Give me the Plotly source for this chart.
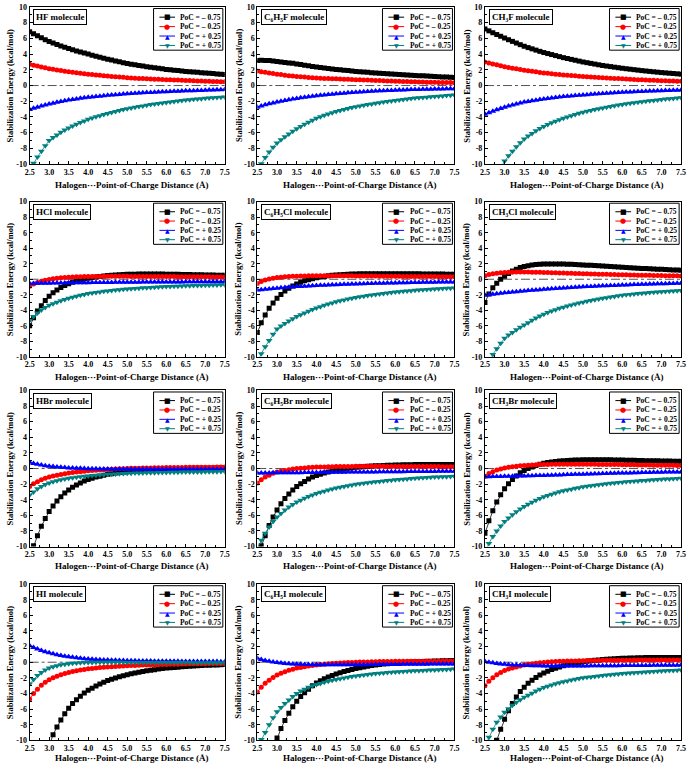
import plotly.graph_objects as go

# ---------------- data ----------------
X = [2.5, 2.6, 2.7, 2.8, 2.9, 3.0, 3.1, 3.2, 3.3, 3.4, 3.5, 3.6, 3.7, 3.8, 3.9,
     4.0, 4.1, 4.2, 4.3, 4.4, 4.5, 4.6, 4.7, 4.8, 4.9, 5.0, 5.1, 5.2, 5.3, 5.4,
     5.5, 5.6, 5.7, 5.8, 5.9, 6.0, 6.1, 6.2, 6.3, 6.4, 6.5, 6.6, 6.7, 6.8, 6.9,
     7.0, 7.1, 7.2, 7.3, 7.4, 7.5]

X_TICKVALS = [2.5, 3.0, 3.5, 4.0, 4.5, 5.0, 5.5, 6.0, 6.5, 7.0, 7.5]
X_TICKTEXT = ["2.5", "3.0", "3.5", "4.0", "4.5", "5.0", "5.5", "6.0", "6.5", "7.0", "7.5"]
Y_TICKVALS = [-10, -8, -6, -4, -2, 0, 2, 4, 6, 8, 10]
Y_TICKTEXT = ["-10", "-8", "-6", "-4", "-2", "0", "2", "4", "6", "8", "10"]

X_TITLE = "Halogen\u00b7\u00b7\u00b7Point-of-Charge Distance (\u00c5)"
Y_TITLE = "Stabilization Energy (kcal/mol)"
SERIES_NAMES = ["PoC = \u2013 0.75", "PoC = \u2013 0.25", "PoC = + 0.25", "PoC = + 0.75"]
MOLECULES = ["HF molecule", "C\u2086H\u2085F molecule", "CH\u2083F molecule",
             "HCl molecule", "C\u2086H\u2085Cl molecule", "CH\u2083Cl molecule",
             "HBr molecule", "C\u2086H\u2085Br molecule", "CH\u2083Br molecule",
             "HI molecule", "C\u2086H\u2085I molecule", "CH\u2083I molecule"]

HF_M075 = [6.85, 6.58, 6.32, 6.07, 5.83, 5.60, 5.41, 5.22, 5.04, 4.87, 4.70, 4.55, 4.40, 4.26, 4.13,
           4.00, 3.86, 3.73, 3.60, 3.47, 3.35, 3.24, 3.13, 3.02, 2.91, 2.80, 2.72, 2.64, 2.56, 2.48,
           2.40, 2.33, 2.26, 2.19, 2.12, 2.05, 2.00, 1.95, 1.90, 1.85, 1.80, 1.76, 1.72, 1.68, 1.64,
           1.60, 1.56, 1.52, 1.48, 1.44, 1.40]
HF_M025 = [2.70, 2.58, 2.47, 2.36, 2.25, 2.15, 2.06, 1.98, 1.90, 1.82, 1.75, 1.69, 1.63, 1.57, 1.51,
           1.45, 1.40, 1.35, 1.30, 1.25, 1.20, 1.16, 1.12, 1.08, 1.04, 1.00, 0.97, 0.94, 0.91, 0.88,
           0.85, 0.83, 0.81, 0.79, 0.77, 0.75, 0.73, 0.71, 0.69, 0.67, 0.65, 0.63, 0.61, 0.59, 0.57,
           0.55, 0.54, 0.52, 0.51, 0.49, 0.48]
HF_P025 = [-3.05, -2.90, -2.75, -2.61, -2.48, -2.35, -2.24, -2.13, -2.03, -1.94, -1.85, -1.78, -1.70, -1.63, -1.56,
           -1.50, -1.45, -1.40, -1.35, -1.30, -1.25, -1.21, -1.17, -1.13, -1.09, -1.05, -1.02, -0.99, -0.96, -0.93,
           -0.90, -0.88, -0.85, -0.83, -0.80, -0.78, -0.76, -0.74, -0.72, -0.70, -0.68, -0.66, -0.65, -0.63, -0.62,
           -0.60, -0.58, -0.57, -0.55, -0.54, -0.52]
HF_P075 = [-10.80, -9.90, -9.10, -8.35, -7.65, -7.00, -6.62, -6.28, -5.96, -5.67, -5.40, -5.16, -4.93, -4.71, -4.50,
           -4.30, -4.14, -3.98, -3.83, -3.69, -3.55, -3.42, -3.29, -3.17, -3.06, -2.95, -2.86, -2.77, -2.68, -2.59,
           -2.50, -2.43, -2.36, -2.29, -2.22, -2.15, -2.09, -2.03, -1.97, -1.91, -1.85, -1.80, -1.76, -1.71, -1.67,
           -1.62, -1.59, -1.55, -1.52, -1.48, -1.45]

C6H5F_M075 = [3.20, 3.21, 3.20, 3.17, 3.12, 3.05, 3.00, 2.94, 2.88, 2.82, 2.75, 2.67, 2.59, 2.51, 2.43,
              2.35, 2.29, 2.23, 2.17, 2.11, 2.05, 2.00, 1.95, 1.90, 1.85, 1.80, 1.76, 1.72, 1.68, 1.64,
              1.60, 1.57, 1.53, 1.50, 1.46, 1.43, 1.40, 1.37, 1.34, 1.31, 1.28, 1.25, 1.23, 1.20, 1.18,
              1.15, 1.12, 1.10, 1.07, 1.05, 1.02]
C6H5F_M025 = [1.85, 1.76, 1.68, 1.60, 1.52, 1.45, 1.39, 1.32, 1.26, 1.20, 1.15, 1.11, 1.07, 1.03, 0.99,
              0.95, 0.93, 0.91, 0.89, 0.87, 0.85, 0.83, 0.81, 0.79, 0.77, 0.75, 0.73, 0.71, 0.69, 0.67,
              0.65, 0.63, 0.61, 0.59, 0.57, 0.55, 0.53, 0.52, 0.50, 0.49, 0.47, 0.46, 0.45, 0.43, 0.42,
              0.41, 0.40, 0.39, 0.38, 0.37, 0.36]
C6H5F_P025 = [-2.75, -2.60, -2.46, -2.33, -2.21, -2.10, -2.00, -1.90, -1.81, -1.73, -1.65, -1.57, -1.50, -1.43, -1.36,
              -1.30, -1.25, -1.20, -1.15, -1.10, -1.05, -1.01, -0.97, -0.93, -0.89, -0.85, -0.82, -0.79, -0.76, -0.73,
              -0.70, -0.68, -0.66, -0.64, -0.62, -0.60, -0.58, -0.56, -0.54, -0.52, -0.50, -0.49, -0.48, -0.47, -0.46,
              -0.45, -0.44, -0.43, -0.42, -0.41, -0.40]
C6H5F_P075 = [-10.70, -9.95, -9.15, -8.45, -7.85, -7.30, -6.90, -6.52, -6.17, -5.83, -5.50, -5.21, -4.94, -4.68, -4.41,
              -4.15, -3.97, -3.79, -3.62, -3.46, -3.30, -3.18, -3.05, -2.93, -2.81, -2.70, -2.61, -2.52, -2.43, -2.34,
              -2.25, -2.18, -2.11, -2.04, -1.97, -1.90, -1.84, -1.78, -1.72, -1.66, -1.60, -1.56, -1.52, -1.48, -1.44,
              -1.40, -1.36, -1.32, -1.28, -1.24, -1.20]

CH3F_M075 = [7.20, 6.96, 6.72, 6.49, 6.27, 6.05, 5.83, 5.62, 5.41, 5.20, 5.00, 4.83, 4.67, 4.51, 4.35,
             4.20, 4.07, 3.94, 3.81, 3.68, 3.55, 3.44, 3.33, 3.22, 3.11, 3.00, 2.91, 2.82, 2.73, 2.64,
             2.55, 2.48, 2.41, 2.34, 2.27, 2.20, 2.14, 2.08, 2.02, 1.96, 1.90, 1.85, 1.80, 1.75, 1.70,
             1.65, 1.61, 1.57, 1.53, 1.49, 1.45]
CH3F_M025 = [3.00, 2.87, 2.75, 2.63, 2.51, 2.40, 2.30, 2.21, 2.12, 2.03, 1.95, 1.88, 1.81, 1.74, 1.67,
             1.60, 1.55, 1.50, 1.45, 1.40, 1.35, 1.31, 1.27, 1.23, 1.19, 1.15, 1.12, 1.09, 1.06, 1.03,
             1.00, 0.97, 0.94, 0.91, 0.88, 0.85, 0.82, 0.80, 0.77, 0.75, 0.72, 0.70, 0.68, 0.66, 0.64,
             0.62, 0.61, 0.59, 0.58, 0.56, 0.55]
CH3F_P025 = [-3.65, -3.45, -3.26, -3.08, -2.91, -2.75, -2.61, -2.47, -2.34, -2.22, -2.10, -2.02, -1.94, -1.86, -1.78,
             -1.70, -1.64, -1.58, -1.52, -1.46, -1.40, -1.36, -1.32, -1.28, -1.24, -1.20, -1.16, -1.12, -1.08, -1.04,
             -1.00, -0.97, -0.94, -0.91, -0.88, -0.85, -0.83, -0.81, -0.79, -0.77, -0.75, -0.73, -0.71, -0.69, -0.67,
             -0.65, -0.64, -0.62, -0.61, -0.59, -0.58]
CH3F_P075 = [-14.00, -13.00, -12.00, -11.20, -10.40, -9.60, -8.95, -8.35, -7.80, -7.28, -6.80, -6.43, -6.09, -5.77, -5.48,
             -5.20, -4.97, -4.75, -4.54, -4.34, -4.15, -3.99, -3.83, -3.68, -3.54, -3.40, -3.28, -3.17, -3.06, -2.95,
             -2.85, -2.75, -2.66, -2.57, -2.48, -2.40, -2.33, -2.26, -2.19, -2.12, -2.05, -2.00, -1.94, -1.89, -1.83,
             -1.78, -1.73, -1.69, -1.64, -1.60, -1.55]

HCl_M075 = [-6.00, -4.95, -4.10, -3.40, -2.75, -2.20, -1.75, -1.38, -1.07, -0.80, -0.57, -0.38, -0.22, -0.08, 0.04,
            0.14, 0.22, 0.30, 0.37, 0.43, 0.48, 0.52, 0.56, 0.59, 0.62, 0.64, 0.65, 0.66, 0.67, 0.68,
            0.68, 0.68, 0.68, 0.67, 0.67, 0.66, 0.65, 0.64, 0.63, 0.62, 0.61, 0.60, 0.59, 0.58, 0.57,
            0.56, 0.55, 0.54, 0.53, 0.52, 0.51]
HCl_M025 = [-0.90, -0.62, -0.41, -0.25, -0.12, -0.02, 0.06, 0.13, 0.18, 0.22, 0.26, 0.29, 0.31, 0.33, 0.34,
            0.35, 0.36, 0.37, 0.37, 0.38, 0.38, 0.38, 0.38, 0.38, 0.38, 0.38, 0.37, 0.37, 0.37, 0.36,
            0.36, 0.36, 0.35, 0.35, 0.35, 0.34, 0.34, 0.34, 0.33, 0.33, 0.33, 0.32, 0.32, 0.32, 0.31,
            0.31, 0.31, 0.30, 0.30, 0.30, 0.29]
HCl_P025 = [-0.55, -0.54, -0.53, -0.52, -0.51, -0.50, -0.49, -0.48, -0.48, -0.47, -0.46, -0.46, -0.45, -0.45, -0.44,
            -0.44, -0.43, -0.43, -0.42, -0.42, -0.41, -0.41, -0.40, -0.40, -0.39, -0.39, -0.38, -0.38, -0.38, -0.37,
            -0.37, -0.36, -0.36, -0.36, -0.35, -0.35, -0.35, -0.34, -0.34, -0.34, -0.33, -0.33, -0.33, -0.33, -0.32,
            -0.32, -0.32, -0.31, -0.31, -0.31, -0.30]
HCl_P075 = [-5.30, -4.80, -4.35, -3.97, -3.64, -3.35, -3.15, -2.96, -2.78, -2.61, -2.45, -2.32, -2.19, -2.07, -1.96,
            -1.85, -1.77, -1.70, -1.63, -1.56, -1.50, -1.45, -1.40, -1.35, -1.30, -1.25, -1.22, -1.18, -1.15, -1.11,
            -1.08, -1.05, -1.03, -1.00, -0.98, -0.95, -0.93, -0.91, -0.89, -0.87, -0.85, -0.83, -0.82, -0.80, -0.79,
            -0.77, -0.76, -0.74, -0.73, -0.71, -0.70]

C6H5Cl_M075 = [-6.85, -5.60, -4.60, -3.75, -3.05, -2.45, -1.95, -1.52, -1.16, -0.86, -0.60, -0.38, -0.20, -0.05, 0.08,
               0.20, 0.29, 0.37, 0.44, 0.50, 0.55, 0.59, 0.62, 0.65, 0.67, 0.69, 0.70, 0.71, 0.72, 0.72,
               0.72, 0.72, 0.72, 0.72, 0.72, 0.72, 0.71, 0.71, 0.71, 0.70, 0.70, 0.70, 0.69, 0.69, 0.68,
               0.68, 0.67, 0.67, 0.66, 0.66, 0.65]
C6H5Cl_M025 = [-0.55, -0.30, -0.11, 0.04, 0.14, 0.22, 0.27, 0.31, 0.35, 0.38, 0.40, 0.42, 0.43, 0.44, 0.45,
               0.45, 0.45, 0.45, 0.45, 0.45, 0.45, 0.45, 0.44, 0.44, 0.44, 0.43, 0.43, 0.42, 0.42, 0.41,
               0.41, 0.40, 0.40, 0.39, 0.39, 0.38, 0.38, 0.37, 0.37, 0.36, 0.36, 0.35, 0.35, 0.35, 0.34,
               0.34, 0.33, 0.33, 0.32, 0.32, 0.31]
C6H5Cl_P025 = [-1.40, -1.35, -1.30, -1.25, -1.20, -1.15, -1.11, -1.07, -1.03, -0.99, -0.95, -0.92, -0.89, -0.86, -0.83,
               -0.80, -0.78, -0.76, -0.74, -0.72, -0.70, -0.68, -0.66, -0.64, -0.62, -0.60, -0.58, -0.57, -0.55, -0.54,
               -0.52, -0.51, -0.50, -0.49, -0.48, -0.47, -0.46, -0.45, -0.44, -0.43, -0.42, -0.41, -0.40, -0.40, -0.39,
               -0.38, -0.37, -0.37, -0.36, -0.36, -0.35]
C6H5Cl_P075 = [-10.80, -9.60, -8.70, -7.90, -7.10, -6.40, -6.04, -5.71, -5.38, -5.08, -4.80, -4.56, -4.34, -4.12, -3.91,
               -3.70, -3.53, -3.36, -3.20, -3.05, -2.90, -2.78, -2.67, -2.56, -2.45, -2.35, -2.26, -2.18, -2.10, -2.02,
               -1.95, -1.89, -1.83, -1.77, -1.71, -1.65, -1.60, -1.56, -1.51, -1.47, -1.42, -1.39, -1.35, -1.32, -1.28,
               -1.25, -1.22, -1.20, -1.17, -1.15, -1.12]

CH3Cl_M075 = [-3.00, -1.90, -1.10, -0.50, 0.00, 0.40, 0.75, 1.05, 1.30, 1.50, 1.65, 1.75, 1.83, 1.90, 1.93,
              1.95, 1.96, 1.97, 1.97, 1.96, 1.95, 1.94, 1.92, 1.90, 1.88, 1.85, 1.82, 1.79, 1.76, 1.73,
              1.70, 1.67, 1.64, 1.61, 1.58, 1.55, 1.52, 1.49, 1.46, 1.43, 1.40, 1.38, 1.35, 1.33, 1.30,
              1.28, 1.25, 1.23, 1.20, 1.18, 1.15]
CH3Cl_M025 = [0.45, 0.60, 0.70, 0.78, 0.83, 0.87, 0.89, 0.91, 0.92, 0.92, 0.92, 0.92, 0.91, 0.90, 0.89,
              0.88, 0.86, 0.85, 0.83, 0.82, 0.80, 0.78, 0.77, 0.75, 0.74, 0.72, 0.71, 0.69, 0.68, 0.66,
              0.65, 0.64, 0.62, 0.61, 0.59, 0.58, 0.57, 0.56, 0.55, 0.53, 0.52, 0.51, 0.50, 0.49, 0.48,
              0.47, 0.46, 0.45, 0.45, 0.44, 0.43]
CH3Cl_P025 = [-2.05, -1.99, -1.93, -1.87, -1.81, -1.75, -1.70, -1.65, -1.60, -1.55, -1.50, -1.46, -1.42, -1.38, -1.34,
              -1.30, -1.26, -1.23, -1.19, -1.16, -1.12, -1.09, -1.06, -1.04, -1.01, -0.98, -0.95, -0.93, -0.90, -0.88,
              -0.85, -0.83, -0.81, -0.79, -0.77, -0.75, -0.73, -0.71, -0.69, -0.67, -0.65, -0.64, -0.62, -0.61, -0.59,
              -0.58, -0.57, -0.55, -0.54, -0.53, -0.52]
CH3Cl_P075 = [-12.50, -11.00, -9.70, -8.95, -8.25, -7.60, -7.20, -6.85, -6.50, -6.20, -5.90, -5.60, -5.30, -5.00, -4.75,
              -4.50, -4.30, -4.10, -3.92, -3.75, -3.60, -3.46, -3.32, -3.19, -3.07, -2.95, -2.84, -2.74, -2.64, -2.54,
              -2.45, -2.37, -2.29, -2.21, -2.13, -2.05, -2.00, -1.95, -1.90, -1.85, -1.80, -1.76, -1.72, -1.68, -1.64,
              -1.60, -1.57, -1.54, -1.51, -1.48, -1.45]

HBr_M075 = [-11.50, -9.90, -8.60, -7.40, -6.40, -5.50, -4.80, -4.15, -3.60, -3.15, -2.75, -2.40, -2.10, -1.85, -1.60,
            -1.40, -1.25, -1.10, -0.98, -0.86, -0.75, -0.67, -0.59, -0.52, -0.46, -0.40, -0.36, -0.31, -0.27, -0.23,
            -0.20, -0.17, -0.14, -0.12, -0.10, -0.08, -0.06, -0.04, -0.03, -0.01, 0.00, 0.01, 0.02, 0.03, 0.03,
            0.04, 0.05, 0.05, 0.06, 0.06, 0.07]
HBr_M025 = [-2.30, -1.95, -1.70, -1.45, -1.25, -1.10, -0.97, -0.86, -0.76, -0.66, -0.58, -0.52, -0.46, -0.40, -0.35,
            -0.30, -0.26, -0.22, -0.18, -0.15, -0.12, -0.09, -0.07, -0.04, -0.02, 0.00, 0.02, 0.03, 0.05, 0.06,
            0.07, 0.08, 0.09, 0.10, 0.11, 0.12, 0.13, 0.13, 0.14, 0.14, 0.15, 0.15, 0.16, 0.16, 0.16,
            0.17, 0.17, 0.17, 0.18, 0.18, 0.18]
HBr_P025 = [0.80, 0.65, 0.55, 0.45, 0.37, 0.30, 0.25, 0.20, 0.16, 0.12, 0.08, 0.06, 0.04, 0.02, 0.00,
            -0.02, -0.03, -0.04, -0.05, -0.06, -0.07, -0.08, -0.08, -0.09, -0.09, -0.10, -0.10, -0.10, -0.10, -0.10,
            -0.10, -0.10, -0.10, -0.10, -0.10, -0.10, -0.09, -0.09, -0.09, -0.09, -0.09, -0.09, -0.09, -0.09, -0.08,
            -0.08, -0.08, -0.08, -0.08, -0.08, -0.08]
HBr_P075 = [-3.40, -3.00, -2.60, -2.30, -2.05, -1.85, -1.70, -1.56, -1.45, -1.34, -1.25, -1.18, -1.11, -1.05, -1.00,
            -0.95, -0.91, -0.87, -0.83, -0.79, -0.75, -0.72, -0.70, -0.67, -0.65, -0.62, -0.61, -0.59, -0.58, -0.56,
            -0.55, -0.54, -0.53, -0.52, -0.51, -0.50, -0.49, -0.48, -0.47, -0.46, -0.45, -0.44, -0.44, -0.43, -0.43,
            -0.42, -0.41, -0.40, -0.40, -0.39, -0.38]

C6H5Br_M075 = [-11.30, -9.90, -8.60, -7.30, -6.20, -5.30, -4.50, -3.85, -3.25, -2.75, -2.30, -1.95, -1.65, -1.35, -1.10,
               -0.90, -0.74, -0.59, -0.45, -0.32, -0.20, -0.12, -0.04, 0.03, 0.09, 0.15, 0.20, 0.24, 0.28, 0.32,
               0.35, 0.37, 0.39, 0.41, 0.43, 0.45, 0.46, 0.47, 0.48, 0.49, 0.50, 0.50, 0.51, 0.51, 0.52,
               0.52, 0.52, 0.52, 0.52, 0.52, 0.52]
C6H5Br_M025 = [-1.85, -1.45, -1.10, -0.85, -0.62, -0.45, -0.34, -0.24, -0.15, -0.07, 0.00, 0.04, 0.08, 0.12, 0.15,
               0.18, 0.20, 0.21, 0.23, 0.24, 0.25, 0.26, 0.26, 0.27, 0.27, 0.28, 0.28, 0.28, 0.28, 0.28,
               0.28, 0.28, 0.28, 0.27, 0.27, 0.27, 0.27, 0.26, 0.26, 0.26, 0.26, 0.26, 0.25, 0.25, 0.25,
               0.25, 0.25, 0.24, 0.24, 0.24, 0.24]
C6H5Br_P025 = [-0.56, -0.56, -0.56, -0.56, -0.55, -0.55, -0.55, -0.54, -0.54, -0.54, -0.53, -0.53, -0.52, -0.52, -0.51,
               -0.50, -0.50, -0.49, -0.49, -0.48, -0.48, -0.47, -0.47, -0.46, -0.46, -0.45, -0.45, -0.44, -0.44, -0.43,
               -0.43, -0.42, -0.42, -0.41, -0.41, -0.40, -0.40, -0.40, -0.39, -0.39, -0.38, -0.38, -0.38, -0.37, -0.37,
               -0.37, -0.36, -0.36, -0.36, -0.35, -0.35]
C6H5Br_P075 = [-10.20, -9.20, -8.30, -7.50, -6.80, -6.20, -5.75, -5.32, -4.94, -4.60, -4.30, -4.05, -3.80, -3.58, -3.38,
               -3.20, -3.05, -2.90, -2.76, -2.63, -2.50, -2.40, -2.30, -2.20, -2.10, -2.00, -1.94, -1.88, -1.82, -1.76,
               -1.70, -1.65, -1.60, -1.55, -1.50, -1.45, -1.41, -1.37, -1.33, -1.29, -1.25, -1.22, -1.19, -1.16, -1.13,
               -1.10, -1.08, -1.06, -1.04, -1.02, -1.00]

CH3Br_M075 = [-8.30, -6.70, -5.40, -4.30, -3.35, -2.60, -1.95, -1.40, -0.95, -0.55, -0.25, 0.00, 0.20, 0.38, 0.54,
              0.68, 0.76, 0.83, 0.89, 0.95, 1.00, 1.03, 1.06, 1.08, 1.10, 1.12, 1.12, 1.13, 1.13, 1.13,
              1.12, 1.12, 1.11, 1.10, 1.09, 1.08, 1.07, 1.06, 1.05, 1.04, 1.02, 1.01, 1.00, 0.99, 0.98,
              0.97, 0.96, 0.95, 0.94, 0.93, 0.92]
CH3Br_M025 = [-1.00, -0.65, -0.40, -0.20, -0.05, 0.07, 0.16, 0.24, 0.30, 0.36, 0.40, 0.43, 0.46, 0.48, 0.50,
              0.52, 0.53, 0.54, 0.54, 0.55, 0.55, 0.55, 0.55, 0.55, 0.55, 0.55, 0.55, 0.54, 0.54, 0.53,
              0.52, 0.52, 0.51, 0.50, 0.50, 0.49, 0.48, 0.47, 0.47, 0.46, 0.45, 0.45, 0.44, 0.43, 0.43,
              0.42, 0.42, 0.41, 0.41, 0.40, 0.40]
CH3Br_P025 = [-1.05, -1.04, -1.03, -1.02, -1.01, -1.00, -0.99, -0.98, -0.97, -0.96, -0.95, -0.94, -0.92, -0.91, -0.89,
              -0.88, -0.86, -0.85, -0.83, -0.82, -0.80, -0.78, -0.77, -0.75, -0.74, -0.72, -0.71, -0.69, -0.68, -0.66,
              -0.65, -0.64, -0.62, -0.61, -0.59, -0.58, -0.57, -0.56, -0.54, -0.53, -0.52, -0.51, -0.50, -0.49, -0.48,
              -0.47, -0.46, -0.45, -0.45, -0.44, -0.43]
CH3Br_P075 = [-10.80, -9.60, -8.70, -8.00, -7.35, -6.80, -6.35, -5.93, -5.54, -5.18, -4.85, -4.58, -4.32, -4.08, -3.83,
              -3.60, -3.44, -3.28, -3.13, -2.99, -2.85, -2.75, -2.64, -2.54, -2.45, -2.35, -2.28, -2.21, -2.14, -2.07,
              -2.00, -1.95, -1.90, -1.85, -1.80, -1.75, -1.71, -1.67, -1.63, -1.59, -1.55, -1.52, -1.48, -1.45, -1.41,
              -1.38, -1.35, -1.33, -1.30, -1.28, -1.25]

HI_M075 = [-20.00, -17.00, -15.00, -13.50, -12.00, -10.60, -9.30, -8.30, -7.40, -6.60, -5.90, -5.30, -4.80, -4.35, -3.95,
           -3.60, -3.32, -3.05, -2.80, -2.57, -2.35, -2.18, -2.02, -1.87, -1.73, -1.60, -1.49, -1.38, -1.28, -1.19,
           -1.10, -1.02, -0.95, -0.88, -0.81, -0.75, -0.71, -0.67, -0.63, -0.59, -0.55, -0.52, -0.49, -0.46, -0.43,
           -0.40, -0.38, -0.36, -0.34, -0.32, -0.30]
HI_M025 = [-4.70, -4.00, -3.45, -2.95, -2.55, -2.25, -2.00, -1.79, -1.60, -1.44, -1.30, -1.19, -1.09, -1.00, -0.92,
           -0.85, -0.79, -0.74, -0.69, -0.64, -0.60, -0.57, -0.54, -0.51, -0.48, -0.45, -0.43, -0.41, -0.39, -0.37,
           -0.35, -0.34, -0.32, -0.31, -0.29, -0.28, -0.27, -0.26, -0.25, -0.23, -0.22, -0.21, -0.20, -0.20, -0.19,
           -0.18, -0.17, -0.17, -0.16, -0.16, -0.15]
HI_P025 = [2.10, 1.90, 1.70, 1.50, 1.35, 1.20, 1.08, 0.97, 0.87, 0.78, 0.70, 0.63, 0.57, 0.51, 0.46,
           0.42, 0.39, 0.36, 0.33, 0.30, 0.28, 0.26, 0.24, 0.23, 0.21, 0.20, 0.19, 0.18, 0.17, 0.16,
           0.15, 0.15, 0.14, 0.13, 0.13, 0.12, 0.12, 0.11, 0.11, 0.10, 0.10, 0.10, 0.09, 0.09, 0.09,
           0.08, 0.08, 0.08, 0.08, 0.07, 0.07]
HI_P075 = [-2.80, -2.20, -1.70, -1.30, -1.00, -0.75, -0.58, -0.44, -0.33, -0.25, -0.18, -0.13, -0.09, -0.06, -0.04,
           -0.03, -0.02, -0.01, -0.01, 0.00, 0.00, 0.00, -0.01, -0.01, -0.01, -0.02, -0.02, -0.02, -0.03, -0.03,
           -0.03, -0.04, -0.04, -0.04, -0.04, -0.05, -0.05, -0.05, -0.05, -0.05, -0.05, -0.05, -0.06, -0.06, -0.06,
           -0.06, -0.06, -0.07, -0.07, -0.07, -0.07]

C6H5I_M075 = [-20.00, -17.50, -15.00, -13.00, -11.20, -9.70, -8.50, -7.45, -6.55, -5.70, -5.00, -4.40, -3.90, -3.45, -3.00,
              -2.65, -2.38, -2.13, -1.90, -1.69, -1.50, -1.34, -1.19, -1.05, -0.92, -0.80, -0.70, -0.60, -0.51, -0.43,
              -0.35, -0.29, -0.24, -0.19, -0.14, -0.10, -0.07, -0.04, -0.01, 0.02, 0.05, 0.07, 0.09, 0.11, 0.13,
              0.15, 0.16, 0.18, 0.19, 0.21, 0.22]
C6H5I_M025 = [-3.80, -3.20, -2.70, -2.30, -1.95, -1.65, -1.42, -1.22, -1.04, -0.89, -0.75, -0.66, -0.57, -0.49, -0.42,
              -0.35, -0.30, -0.25, -0.20, -0.16, -0.12, -0.09, -0.07, -0.04, -0.02, 0.00, 0.02, 0.03, 0.04, 0.06,
              0.07, 0.08, 0.09, 0.09, 0.10, 0.11, 0.11, 0.12, 0.12, 0.12, 0.13, 0.13, 0.13, 0.14, 0.14,
              0.14, 0.14, 0.15, 0.15, 0.15, 0.15]
C6H5I_P025 = [0.50, 0.35, 0.22, 0.12, 0.03, -0.05, -0.10, -0.15, -0.19, -0.22, -0.25, -0.27, -0.29, -0.30, -0.31,
              -0.32, -0.32, -0.33, -0.33, -0.33, -0.33, -0.33, -0.33, -0.33, -0.32, -0.32, -0.32, -0.31, -0.31, -0.30,
              -0.30, -0.30, -0.29, -0.29, -0.28, -0.28, -0.28, -0.27, -0.27, -0.26, -0.26, -0.26, -0.25, -0.25, -0.24,
              -0.24, -0.24, -0.23, -0.23, -0.22, -0.22]
C6H5I_P075 = [-11.00, -9.90, -9.00, -8.00, -7.10, -6.35, -5.80, -5.30, -4.85, -4.40, -4.00, -3.70, -3.45, -3.22, -3.02,
              -2.85, -2.71, -2.58, -2.45, -2.32, -2.20, -2.11, -2.02, -1.93, -1.84, -1.75, -1.69, -1.63, -1.57, -1.51,
              -1.45, -1.41, -1.37, -1.33, -1.29, -1.25, -1.22, -1.19, -1.16, -1.13, -1.10, -1.08, -1.05, -1.03, -1.00,
              -0.98, -0.96, -0.94, -0.92, -0.90, -0.88]

CH3I_M075 = [-16.00, -14.00, -12.00, -10.00, -8.60, -7.30, -6.20, -5.30, -4.45, -3.75, -3.20, -2.70, -2.30, -1.95, -1.65,
             -1.38, -1.15, -0.94, -0.76, -0.60, -0.45, -0.33, -0.22, -0.12, -0.03, 0.05, 0.12, 0.18, 0.24, 0.30,
             0.35, 0.39, 0.42, 0.45, 0.48, 0.50, 0.52, 0.54, 0.55, 0.57, 0.58, 0.59, 0.59, 0.60, 0.60,
             0.60, 0.60, 0.60, 0.60, 0.60, 0.60]
CH3I_M025 = [-3.00, -2.45, -2.00, -1.60, -1.30, -1.05, -0.88, -0.73, -0.60, -0.47, -0.35, -0.27, -0.19, -0.12, -0.07,
             -0.02, 0.02, 0.06, 0.09, 0.11, 0.13, 0.15, 0.16, 0.17, 0.19, 0.20, 0.21, 0.22, 0.22, 0.23,
             0.24, 0.24, 0.25, 0.25, 0.26, 0.26, 0.26, 0.26, 0.27, 0.27, 0.27, 0.27, 0.27, 0.27, 0.27,
             0.27, 0.27, 0.27, 0.27, 0.27, 0.27]
CH3I_P025 = [0.10, 0.00, -0.08, -0.15, -0.22, -0.27, -0.31, -0.34, -0.37, -0.40, -0.42, -0.43, -0.44, -0.45, -0.46,
             -0.47, -0.47, -0.48, -0.48, -0.48, -0.48, -0.48, -0.48, -0.48, -0.47, -0.47, -0.47, -0.46, -0.46, -0.46,
             -0.45, -0.45, -0.45, -0.44, -0.44, -0.43, -0.43, -0.43, -0.42, -0.42, -0.41, -0.41, -0.41, -0.40, -0.40,
             -0.39, -0.39, -0.38, -0.38, -0.38, -0.37]
CH3I_P075 = [-10.80, -9.60, -8.60, -7.70, -7.00, -6.40, -5.95, -5.52, -5.12, -4.80, -4.50, -4.22, -3.96, -3.70, -3.47,
             -3.25, -3.08, -2.92, -2.77, -2.63, -2.50, -2.39, -2.29, -2.19, -2.09, -2.00, -1.94, -1.88, -1.82, -1.76,
             -1.70, -1.65, -1.60, -1.55, -1.50, -1.45, -1.41, -1.38, -1.34, -1.31, -1.27, -1.24, -1.21, -1.18, -1.15,
             -1.12, -1.10, -1.07, -1.05, -1.02, -1.00]

PANELS = [
    (HF_M075, HF_M025, HF_P025, HF_P075),
    (C6H5F_M075, C6H5F_M025, C6H5F_P025, C6H5F_P075),
    (CH3F_M075, CH3F_M025, CH3F_P025, CH3F_P075),
    (HCl_M075, HCl_M025, HCl_P025, HCl_P075),
    (C6H5Cl_M075, C6H5Cl_M025, C6H5Cl_P025, C6H5Cl_P075),
    (CH3Cl_M075, CH3Cl_M025, CH3Cl_P025, CH3Cl_P075),
    (HBr_M075, HBr_M025, HBr_P025, HBr_P075),
    (C6H5Br_M075, C6H5Br_M025, C6H5Br_P025, C6H5Br_P075),
    (CH3Br_M075, CH3Br_M025, CH3Br_P025, CH3Br_P075),
    (HI_M075, HI_M025, HI_P025, HI_P075),
    (C6H5I_M075, C6H5I_M025, C6H5I_P025, C6H5I_P075),
    (CH3I_M075, CH3I_M025, CH3I_P025, CH3I_P075),
]
for p in PANELS:
    for s in p:
        assert len(s) == len(X), len(s)

# ---------------- style ----------------
W, H = 693, 771
COLORS = ["#000000", "#ff0000", "#0000ff", "#008080"]
SYMBOLS = ["square", "circle", "triangle-up", "triangle-down"]
MARKER_SIZES = [5, 5, 6, 6]
GLYPHS = ["\u25a0", "\u25cf", "\u25b2", "\u25bc"]
GLYPH_SIZES = [7, 7, 6, 6]
SERIF = "Liberation Serif"

COL_PX = [(25, 223), (256, 456), (487, 686)]
ROW_PX = [(3, 162), (200, 357), (391, 549), (587, 745)]
XTITLE_OFFSET = [21, 20, 20, 18]
YTITLE_X = [5, 237, 468]


def fx(px):
    return px / W


def fy(py):
    return 1 - py / H


fig = go.Figure()
shapes = []
annotations = []

for i, panel in enumerate(PANELS):
    r, c = divmod(i, 3)
    n = "" if i == 0 else str(i + 1)
    xa, ya = "x" + n, "y" + n
    for k, vals in enumerate(panel):
        fig.add_trace(go.Scatter(
            x=X, y=vals, xaxis=xa, yaxis=ya, mode="lines+markers",
            name=SERIES_NAMES[k], showlegend=False,
            line=dict(color=COLORS[k], width=0.8),
            marker=dict(symbol=SYMBOLS[k], size=MARKER_SIZES[k], color=COLORS[k], line=dict(width=0)),
        ))
    x0, x1 = COL_PX[c]
    y0, y1 = ROW_PX[r]
    axcommon = dict(showgrid=False, zeroline=False, showline=True, linecolor="black",
                    linewidth=1, mirror=True, ticks="inside", ticklen=3, tickcolor="black",
                    tickfont=dict(family=SERIF, size=8, color="black", weight="bold"))
    fig.layout["xaxis" + n] = dict(
        domain=[fx(x0), fx(x1)], anchor=ya, range=[2.5, 7.5],
        tickmode="array", tickvals=X_TICKVALS, ticktext=X_TICKTEXT,
        minor=dict(ticks="inside", ticklen=2, dtick=0.25, tickcolor="black"), **axcommon)
    fig.layout["yaxis" + n] = dict(
        domain=[fy(y1), fy(y0)], anchor=xa, range=[-10, 10],
        tickmode="array", tickvals=Y_TICKVALS, ticktext=Y_TICKTEXT,
        minor=dict(ticks="inside", ticklen=2, dtick=1, tickcolor="black"), **axcommon)

    xd, yd = xa + " domain", ya + " domain"
    # zero reference line
    shapes.append(dict(type="line", xref=xd, yref=ya, x0=0, x1=1, y0=0, y1=0, layer="below",
                       line=dict(color="#555555", width=1, dash="dashdot")))
    # molecule label box
    annotations.append(dict(xref=xd, yref=yd, x=0.018, y=0.985, xanchor="left", yanchor="top",
                            text="<b>" + MOLECULES[i] + "</b>", showarrow=False,
                            font=dict(family=SERIF, size=9, color="black"),
                            bordercolor="black", borderwidth=1, borderpad=2, bgcolor="white"))
    # legend box
    shapes.append(dict(type="rect", xref=xd, yref=yd, x0=0.635, x1=0.99, y0=0.725, y1=0.99,
                       line=dict(color="black", width=1), fillcolor="white", layer="above"))
    for k in range(4):
        yy = 0.935 - k * 0.06
        shapes.append(dict(type="line", xref=xd, yref=yd, x0=0.665, x1=0.745, y0=yy, y1=yy,
                           line=dict(color=COLORS[k], width=1), layer="above"))
        annotations.append(dict(xref=xd, yref=yd, x=0.705, y=yy, xanchor="center", yanchor="middle",
                                text=GLYPHS[k], showarrow=False,
                                font=dict(family="DejaVu Sans", size=GLYPH_SIZES[k], color=COLORS[k])))
        annotations.append(dict(xref=xd, yref=yd, x=0.762, y=yy, xanchor="left", yanchor="middle",
                                text="<b>" + SERIES_NAMES[k] + "</b>", showarrow=False,
                                font=dict(family=SERIF, size=7.5, color="black")))
    # axis titles
    annotations.append(dict(xref="paper", yref="paper", x=fx((x0 + x1) / 2 + 4),
                            y=fy(y1 + XTITLE_OFFSET[r]),
                            xanchor="center", yanchor="middle", showarrow=False,
                            text="<b>" + X_TITLE + "</b>",
                            font=dict(family=SERIF, size=9, color="black")))
    annotations.append(dict(xref="paper", yref="paper", x=fx(YTITLE_X[c]), y=fy((y0 + y1) / 2),
                            xanchor="center", yanchor="middle", showarrow=False, textangle=-90,
                            text="<b>" + Y_TITLE + "</b>",
                            font=dict(family=SERIF, size=8.5, color="black")))

fig.update_layout(width=W, height=H, margin=dict(l=0, r=0, t=0, b=0),
                  paper_bgcolor="white", plot_bgcolor="white",
                  shapes=shapes, annotations=annotations, showlegend=False)
fig.write_html("out.html", config={"displayModeBar": False},
               post_script="document.body.style.margin='0';document.body.style.overflow='hidden';")
